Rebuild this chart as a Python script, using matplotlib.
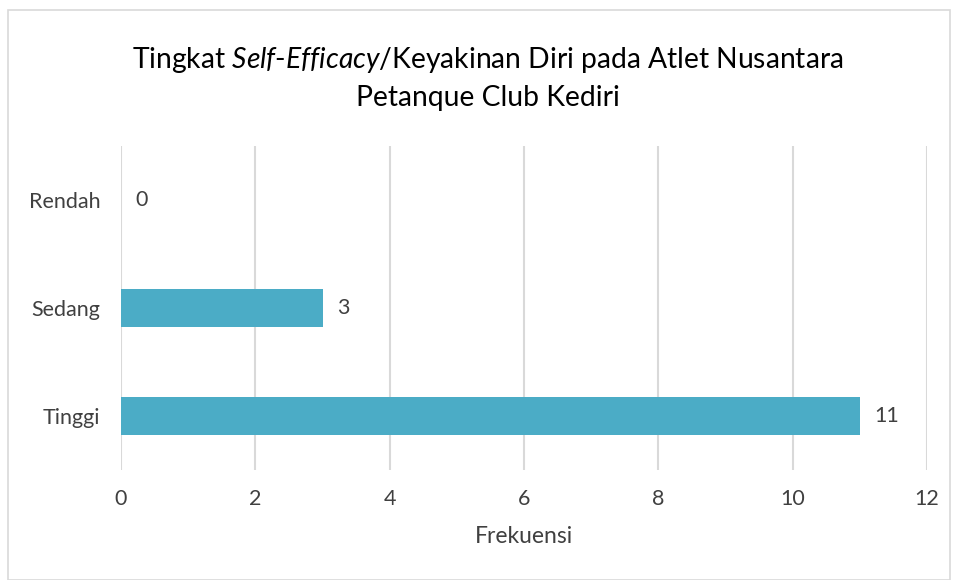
import matplotlib
matplotlib.use("Agg")
import matplotlib.pyplot as plt
from matplotlib.patches import Rectangle

categories = ["Tinggi", "Sedang", "Rendah"]
values = [11, 3, 0]
xticks = [0, 2, 4, 6, 8, 10, 12]

plt.rcParams['font.family'] = ['Lato', 'DejaVu Sans']
plt.rcParams['mathtext.fontset'] = 'custom'
plt.rcParams['mathtext.rm'] = 'Lato'
plt.rcParams['mathtext.it'] = 'Lato:italic'
plt.rcParams['mathtext.default'] = 'regular'

fig = plt.figure(figsize=(9.55, 5.8), dpi=100)
ax = fig.add_axes([121/955, 1-470/580, (927-121)/955, (470-146)/580])

bar_color = "#4BACC6"
txt = '#404040'
ypos = list(range(len(categories)))
ax.barh(ypos, values, height=0.35, color=bar_color, zorder=3)
for y, v in zip(ypos, values):
    ax.text(v + 0.22, y, str(v), va='center', ha='left', fontsize=15.5, color=txt)

ax.set_xlim(0, 12)
ax.set_ylim(-0.5, 2.5)
ax.set_xticks(xticks)
ax.set_xticklabels([str(t) for t in xticks], fontsize=15.5, color=txt)
ax.set_yticks(ypos)
ax.set_yticklabels(categories, fontsize=15.5, color=txt)
ax.tick_params(axis='x', length=0, pad=14)
ax.tick_params(axis='y', length=0, pad=15)
ax.grid(axis='x', color='#d9d9d9', linewidth=1.5, zorder=0)
for s in ax.spines.values():
    s.set_visible(False)
ax.set_xlabel("Frekuensi", fontsize=16.5, color=txt, labelpad=12)

fig.text(488/955, 1-78/580, "Tingkat $\\mathit{Self}$$\\mathit{\\text{-}Efficacy}$/Keyakinan Diri pada Atlet Nusantara\nPetanque Club Kediri",
         ha='center', va='center', fontsize=20.3, color='black', linespacing=1.45)

fig.patches.append(Rectangle((8/955, 0.0), (950-8)/955, 1-10/580, transform=fig.transFigure,
                             fill=False, edgecolor='#d9d9d9', linewidth=1.2))

fig.savefig("out.png", dpi=100)
